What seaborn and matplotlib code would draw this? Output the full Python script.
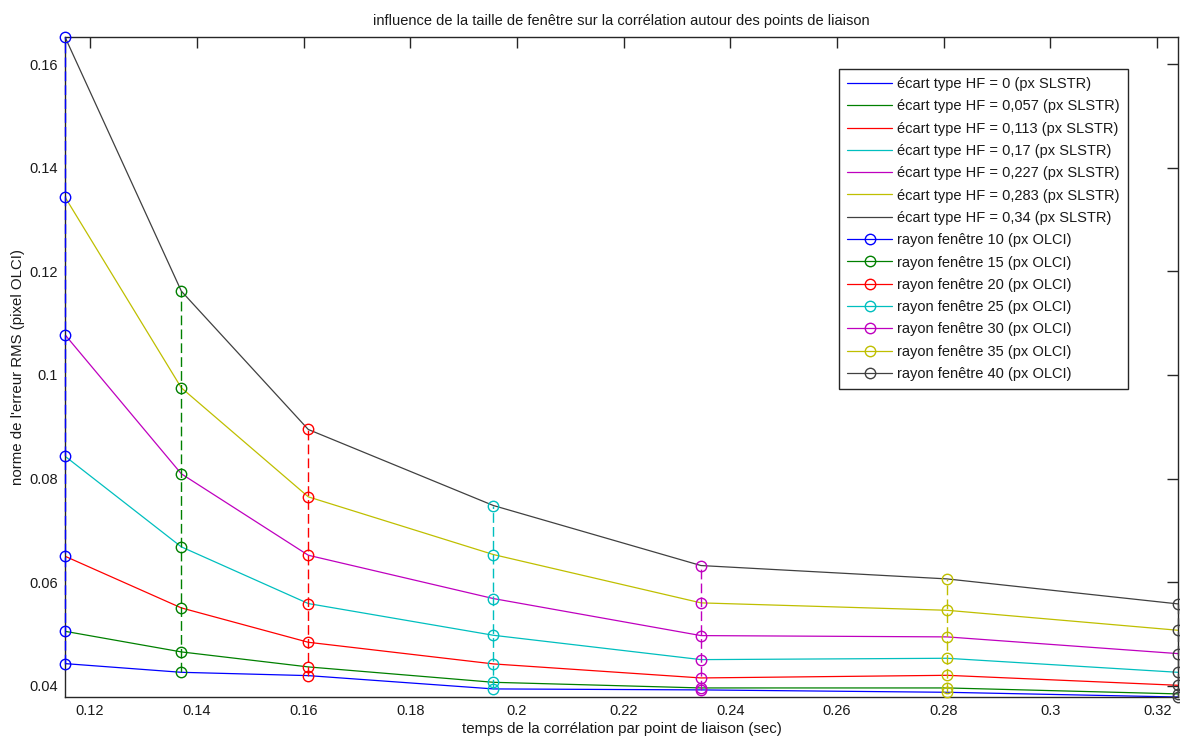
import numpy as np
import pandas as pd
import matplotlib
matplotlib.use("Agg")
import matplotlib.pyplot as plt
from matplotlib.lines import Line2D
from matplotlib.ticker import FuncFormatter, MultipleLocator
import seaborn as sns

# ---- data ----
times = [0.1153, 0.1371, 0.1609, 0.1956, 0.2345, 0.2806, 0.3239]
hf_labels = ["0", "0,057", "0,113", "0,17", "0,227", "0,283", "0,34"]
rayons = [10, 15, 20, 25, 30, 35, 40]

rms_hf0 = [0.04425, 0.04257, 0.04193, 0.03936, 0.03917, 0.03871, 0.03780]
rms_hf057 = [0.05049, 0.04651, 0.04361, 0.04064, 0.03955, 0.03955, 0.03840]
rms_hf113 = [0.06499, 0.05501, 0.04837, 0.04419, 0.04148, 0.04199, 0.04006]
rms_hf17 = [0.08431, 0.06680, 0.05585, 0.04972, 0.04502, 0.04528, 0.04257]
rms_hf227 = [0.10777, 0.08091, 0.06518, 0.05681, 0.04966, 0.04941, 0.04618]
rms_hf283 = [0.13436, 0.09752, 0.07646, 0.06531, 0.05598, 0.05455, 0.05069]
rms_hf34 = [0.16528, 0.11620, 0.08947, 0.07478, 0.06319, 0.06061, 0.05578]

series = [rms_hf0, rms_hf057, rms_hf113, rms_hf17, rms_hf227, rms_hf283, rms_hf34]
colors = [(0, 0, 1), (0, 0.5, 0), (1, 0, 0), (0, 0.75, 0.75),
          (0.75, 0, 0.75), (0.75, 0.75, 0), (0.25, 0.25, 0.25)]

rows = []
for lab, vals in zip(hf_labels, series):
    for t, v in zip(times, vals):
        rows.append({"t": t, "rms": v, "hf": lab})
df = pd.DataFrame(rows)

# ---- style ----
sns.set_theme(style="white")
plt.rcParams["font.family"] = ["Liberation Sans", "DejaVu Sans"]
plt.rcParams["xtick.direction"] = "in"
plt.rcParams["ytick.direction"] = "in"

fig = plt.figure(figsize=(11.8, 7.42), dpi=100)
fig.patch.set_facecolor("white")
ax = fig.add_axes([65 / 1180, 1 - 697 / 742, (1178 - 65) / 1180, (697 - 37) / 742])

# solid lines: one per HF value
for lab, col in zip(hf_labels, colors):
    sub = df[df["hf"] == lab]
    sns.lineplot(data=sub, x="t", y="rms", color=col, estimator=None,
                 sort=False, legend=False, ax=ax, linewidth=0.9)

# dashed vertical lines with circles: one per window radius (same x)
for i, (r, col) in enumerate(zip(rayons, colors)):
    sub = df[df["t"] == times[i]]
    sns.lineplot(data=sub, x="t", y="rms", color=col, estimator=None,
                 sort=False, legend=False, ax=ax, linewidth=1.0,
                 linestyle=(0, (7.0, 3.0)), marker="o", markersize=7.5,
                 markerfacecolor="none", markeredgecolor=col,
                 markeredgewidth=1.0, clip_on=False, zorder=3)

allv = np.concatenate([np.array(s) for s in series])
ax.set_xlim(min(times), max(times))
ax.set_ylim(allv.min(), allv.max())

ax.xaxis.set_major_locator(MultipleLocator(0.02))
ax.yaxis.set_major_locator(MultipleLocator(0.02))
fmt = FuncFormatter(lambda v, p: "%g" % round(v, 4))
ax.xaxis.set_major_formatter(fmt)
ax.yaxis.set_major_formatter(fmt)
ax.tick_params(axis="both", which="both", direction="in", top=True, right=True,
               length=8, width=1, color="#262626", labelsize=10.5,
               labelcolor="#1a1a1a", pad=5)
for sp in ax.spines.values():
    sp.set_visible(True)
    sp.set_color("#262626")
    sp.set_linewidth(1.0)

ax.set_title("influence de la taille de fenêtre sur la corrélation autour des points de liaison",
             fontsize=10.5, color="#1a1a1a", pad=9)
ax.set_xlabel("temps de la corrélation par point de liaison (sec)", fontsize=10.8,
              color="#1a1a1a", labelpad=3)
ax.set_ylabel("norme de l'erreur RMS (pixel OLCI)", fontsize=10.8, color="#1a1a1a",
              labelpad=3)

# legend
handles = []
labels = []
for lab, col in zip(hf_labels, colors):
    handles.append(Line2D([], [], color=col, linewidth=0.9))
    labels.append("écart type HF = %s (px SLSTR)" % lab)
for r, col in zip(rayons, colors):
    handles.append(Line2D([], [], color=col, linewidth=0.9, marker="o",
                          markersize=7.5, markerfacecolor="none",
                          markeredgecolor=col, markeredgewidth=1.0))
    labels.append("rayon fenêtre %d (px OLCI)" % r)
leg = ax.legend(handles, labels, loc="upper right",
                bbox_to_anchor=((1128 - 65) / 1113, (697 - 69) / 660),
                borderaxespad=0, fontsize=10.5, frameon=True, fancybox=False,
                handlelength=3.1, handletextpad=0.35, labelspacing=0.57,
                borderpad=0.55, framealpha=1)
leg.get_frame().set_edgecolor("#262626")
leg.get_frame().set_linewidth(1.0)
for t in leg.get_texts():
    t.set_color("#1a1a1a")

fig.savefig("out.png", dpi=100, facecolor="white")
